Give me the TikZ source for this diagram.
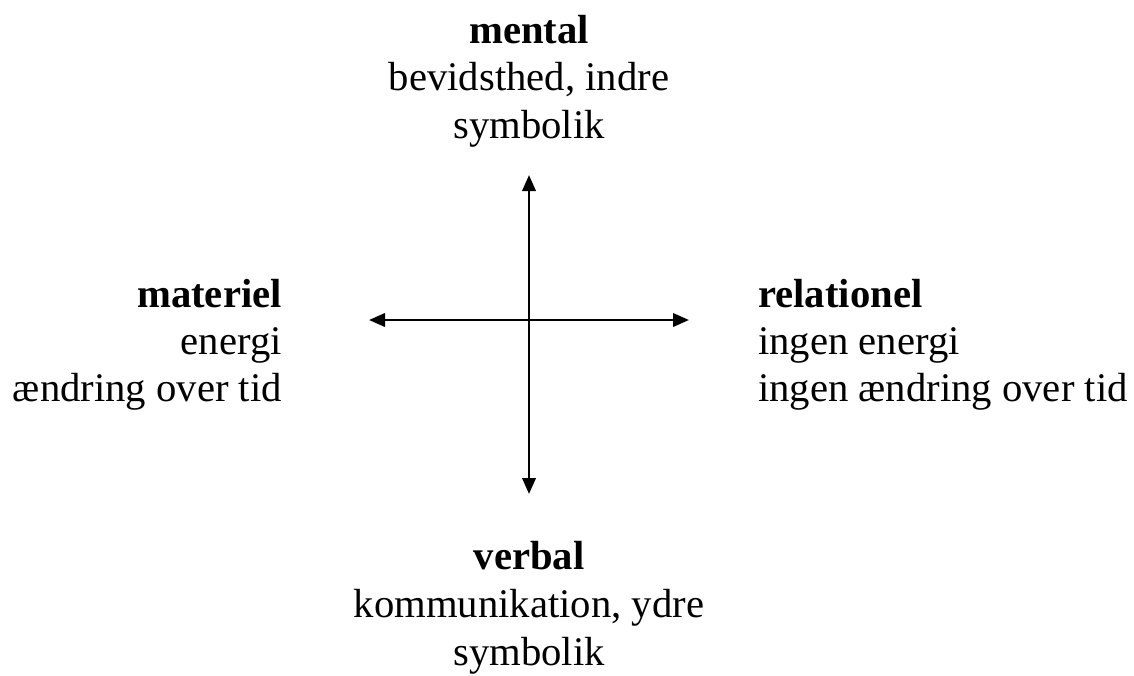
\documentclass[tikz,border=0pt]{standalone}
\usepackage{fontspec}
\setmainfont{Liberation Serif}
\usetikzlibrary{arrows.meta}
\begin{document}
\begin{tikzpicture}[x=0.75pt,y=-0.75pt,
  lbl/.style={inner sep=0pt,font=\fontsize{30.5}{36}\selectfont},
  ttl/.style={lbl,font=\fontsize{30.5}{36}\selectfont\bfseries},
  axis/.style={line width=2pt,{Triangle[length=12pt,width=10pt]}-{Triangle[length=12pt,width=10pt]}}]
\useasboundingbox (0,0) rectangle (1134,675);
\coordinate (top) at (529,175);
\coordinate (bot) at (529,494);
\coordinate (lft) at (369,320);
\coordinate (rgt) at (689,320);
\draw[axis] (top) -- (bot);
\draw[axis] (lft) -- (rgt);
% top
\node[ttl,anchor=base] (m1) at (529,43) {mental};
\node[lbl,anchor=base] (m2) at (529,90) {bevidsthed, indre};
\node[lbl,anchor=base] (m3) at (529,138) {symbolik};
% bottom
\node[ttl,anchor=base] (v1) at (529,569) {verbal};
\node[lbl,anchor=base] (v2) at (529,617) {kommunikation, ydre};
\node[lbl,anchor=base] (v3) at (529,665) {symbolik};
% left
\node[ttl,anchor=base east] (l1) at (282,307) {materiel};
\node[lbl,anchor=base east] (l2) at (282,354) {energi};
\node[lbl,anchor=base east] (l3) at (282,401) {ændring over tid};
% right
\node[ttl,anchor=base west] (r1) at (758,307) {relationel};
\node[lbl,anchor=base west] (r2) at (758,354) {ingen energi};
\node[lbl,anchor=base west] (r3) at (758,401) {ingen ændring over tid};
\end{tikzpicture}
\end{document}
